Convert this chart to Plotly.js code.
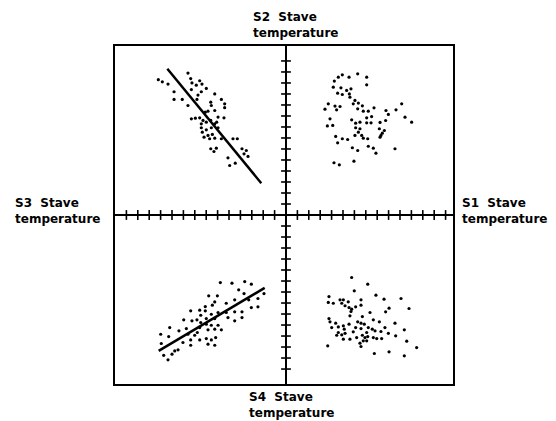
<!DOCTYPE html>
<html>
<head>
<meta charset="utf-8">
<script src="https://cdn.plot.ly/plotly-3.0.1.min.js"></script>
<style>
html,body{margin:0;padding:0;background:#fff;}
#chart{width:556px;height:421px;}
</style>
</head>
<body>
<div id="chart"></div>
<script>
// Units: one axis tick step. Each quadrant plots two staves, measured outward from the centre.
// Upper-left: S3 (leftward) vs S2 (upward)
const ulS3 = [11.2,10.85,10.35,8.6,8.36,8.25,7.87,7.57,7.37,6.99,9.82,8.3,7.72,7.43,7.81,6.25,5.67,5.38,5.38,6.6,6.55,8.6,9.1,9.82,7.08,6.84,6.25,5.96,5.44,8.3,7.95,7.57,7.28,6.99,7.43,6.6,6.25,6.08,7.43,6.99,6.55,5.96,7.34,6.84,6.7,6.25,6.46,7.19,5.67,4.65,4.27,6.6,6.32,6.11,3.86,3.48,3.68,3.33,5.09,4.94,4.45];
const ulS2 = [12.3,12.1,11.9,12.9,12.4,12.0,11.8,12.2,11.9,11.5,11.2,11.4,10.9,11.2,10.5,11.0,10.5,10.1,9.75,10.25,9.95,9.95,10.5,10.5,9.35,9.44,9.5,8.9,8.83,8.74,8.8,8.83,8.6,8.44,8.29,8.6,8.29,8.44,7.93,7.74,7.93,7.93,7.53,7.23,6.93,6.98,7.32,7.07,6.93,6.93,6.93,6.02,5.77,6.07,6.02,5.86,5.56,5.32,5.2,4.5,4.71];
const ulFitS3 = [10.41, 2.17];
const ulFitS2 = [13.3, 2.89];

// Upper-right: S1 (rightward) vs S2 (upward)
const urS1 = [4.24,4.59,4.94,5.53,6.29,7.08,7.08,4.15,4.82,5.32,5.70,4.53,4.94,5.56,5.61,6.05,6.35,5.9,3.71,4.3,4.74,4.44,3.42,6.7,6.29,6.78,7.22,7.72,8.77,9.65,10.15,8.98,8.74,7.51,7.08,10.44,11.02,3.86,3.63,4.1,5.76,6.11,6.49,7.08,7.46,8.25,6.11,6.49,6.35,8.19,8.63,8.45,8.33,8.25,6.05,6.64,6.78,7.17,4.36,4.94,5.41,4.53,7.22,7.66,7.89,5.82,6.29,9.56,5.96,4.21,4.68];
const urS2 = [12.17,12.53,12.74,12.53,12.83,12.53,11.83,11.62,11.56,11.32,11.47,11.07,10.95,11.0,10.71,10.41,10.17,10.1,10.1,9.9,9.86,9.56,9.62,9.92,9.65,9.44,9.44,9.74,9.5,9.56,10.1,9.14,8.59,8.95,8.83,8.89,8.44,8.74,8.1,8.14,8.65,8.35,8.44,8.38,8.38,8.41,7.93,7.84,7.53,7.84,7.68,7.44,7.23,7.07,7.23,7.23,6.98,6.93,7.14,6.93,6.86,6.56,6.25,6.07,5.62,6.11,5.86,6.02,4.89,4.75,4.56];

// Lower-left: S3 (leftward) vs S4 (downward)
const llS3 = [5.76,4.74,3.62,3.04,4.15,3.68,6.78,6.02,6.25,6.46,7.08,7.08,7.48,7.57,8.36,5.24,4.5,3.27,2.46,1.93,2.46,3.04,3.86,4.5,5.24,5.96,6.55,6.99,7.81,8.25,8.97,6.25,5.09,4.5,3.86,7.48,6.99,6.55,5.96,5.67,6.25,6.84,7.57,7.78,8.01,7.57,6.99,6.55,6.17,6.25,6.84,8.36,8.6,9.04,8.36,9.39,10.2,10.99,10.94,10.29,10.73,10.35,10.0,9.76,9.47,8.74];
const llS4 = [6.14,6.2,6.05,6.29,6.8,7.14,7.35,7.35,7.9,8.2,8.32,8.71,9.11,8.65,8.71,8.02,7.71,7.71,7.59,7.14,8.35,8.41,8.8,8.8,8.86,8.86,9.02,9.41,9.53,9.62,9.53,9.41,9.32,9.62,9.32,9.77,9.92,10.02,10.02,10.44,10.38,10.44,10.23,10.68,10.93,11.35,11.23,11.35,11.14,11.84,11.74,11.35,10.84,11.59,11.84,10.53,10.23,10.84,11.68,11.05,12.75,13.16,12.65,12.35,12.25,10.32];
const llFitS3 = [11.17, 1.87];
const llFitS4 = [12.35, 6.62];

// Lower-right: S1 (rightward) vs S4 (downward)
const lrS1 = [5.76,7.17,5.99,3.77,3.71,4.15,4.74,5.03,4.89,5.18,5.46,5.53,5.76,5.7,6.11,6.58,6.58,7.89,8.6,10.09,10.79,9.04,8.74,7.37,6.7,3.77,3.86,4.36,4.01,4.59,5.03,5.53,6.29,6.58,6.87,7.66,8.19,9.56,6.11,6.58,7.22,7.57,7.08,7.81,8.33,8.68,8.98,9.62,10.38,4.59,4.45,4.89,5.18,5.03,5.61,6.2,6.7,6.93,7.17,6.78,7.08,6.49,6.58,7.66,7.96,8.39,3.66,7.75,9.04,10.38,10.59,11.46,5.61,5.11,5.9];
const lrS4 = [5.68,6.29,6.89,7.41,7.95,8.02,7.71,7.71,8.02,8.25,7.89,8.41,8.56,8.77,8.35,7.71,8.2,7.29,7.65,7.59,8.5,8.47,8.8,8.86,9.23,9.41,9.71,9.83,10.23,10.17,10.07,9.92,9.71,9.83,9.92,9.53,9.71,9.83,10.23,10.32,10.23,10.38,10.68,10.53,10.59,10.23,10.75,10.98,10.44,10.68,10.93,10.89,10.75,11.29,11.29,11.14,10.93,11.14,11.05,11.44,11.44,11.65,11.95,11.14,11.23,11.23,11.89,12.59,12.44,12.8,11.47,12.05,9.16,10.38,10.62];

// Cross-axis tick positions (tick steps from the centre)
const tickSteps = [-14,-13,-12,-11,-10,-9,-8,-7,-6,-5,-4,-3,-2,-1,1,2,3,4,5,6,7,8,9,10,11,12,13,14];

// Axis labels
const labelTop = 'S2&nbsp; Stave<br>temperature';
const labelLeft = 'S3&nbsp; Stave<br>temperature';
const labelRight = 'S1&nbsp; Stave<br>temperature';
const labelBottom = 'S4&nbsp; Stave<br>temperature';

const neg = a => a.map(v => -v);
const dot = {color:'#000', size:3.2};

const traces = [
  {type:'scatter', mode:'markers', x:neg(ulS3), y:ulS2, marker:dot, hoverinfo:'skip'},
  {type:'scatter', mode:'markers', x:urS1, y:urS2, marker:dot, hoverinfo:'skip'},
  {type:'scatter', mode:'markers', x:neg(llS3), y:neg(llS4), marker:dot, hoverinfo:'skip'},
  {type:'scatter', mode:'markers', x:lrS1, y:neg(lrS4), marker:dot, hoverinfo:'skip'},
  {type:'scatter', mode:'lines', x:neg(ulFitS3), y:ulFitS2, line:{color:'#000', width:2.5}, hoverinfo:'skip'},
  {type:'scatter', mode:'lines', x:neg(llFitS3), y:neg(llFitS4), line:{color:'#000', width:2.5}, hoverinfo:'skip'},
  // tick marks on the horizontal cross axis
  {type:'scatter', mode:'markers', x:tickSteps, y:tickSteps.map(()=>0),
   marker:{symbol:'line-ns', size:7, line:{color:'#000', width:1.6}}, hoverinfo:'skip', cliponaxis:false},
  // tick marks on the vertical cross axis
  {type:'scatter', mode:'markers', x:tickSteps.map(()=>0), y:tickSteps,
   marker:{symbol:'line-ew', size:7, line:{color:'#000', width:1.6}}, hoverinfo:'skip', cliponaxis:false}
];

const W = 556, H = 421, L = 115, R = 453, T = 46, B = 384;
const px = v => (v - L) / (R - L);
const py = v => (B - v) / (B - T);
const lblFont = {family:'DejaVu Sans', size:12, color:'#000', weight:'bold'};
const ann = (text, x, y) => ({text, xref:'paper', yref:'paper', x:px(x), y:py(y),
  xanchor:'left', yanchor:'top', align:'left', showarrow:false, font:lblFont});

const layout = {
  width:W, height:H,
  margin:{l:L, r:W-R, t:T, b:H-B, pad:0},
  paper_bgcolor:'#fff', plot_bgcolor:'#fff',
  showlegend:false,
  xaxis:{range:[-15, 14.65], showgrid:false, showticklabels:false, ticks:'',
         zeroline:true, zerolinecolor:'#000', zerolinewidth:2,
         showline:true, mirror:true, linecolor:'#000', linewidth:2, fixedrange:true},
  yaxis:{range:[-15.36, 15.36], showgrid:false, showticklabels:false, ticks:'',
         zeroline:true, zerolinecolor:'#000', zerolinewidth:2,
         showline:true, mirror:true, linecolor:'#000', linewidth:2, fixedrange:true},
  annotations:[
    ann(labelTop, 251, 8),
    ann(labelLeft, 13, 194),
    ann(labelRight, 460, 194),
    ann(labelBottom, 247, 388)
  ]
};

Plotly.newPlot('chart', traces, layout, {staticPlot:true, displayModeBar:false});
</script>
</body>
</html>
